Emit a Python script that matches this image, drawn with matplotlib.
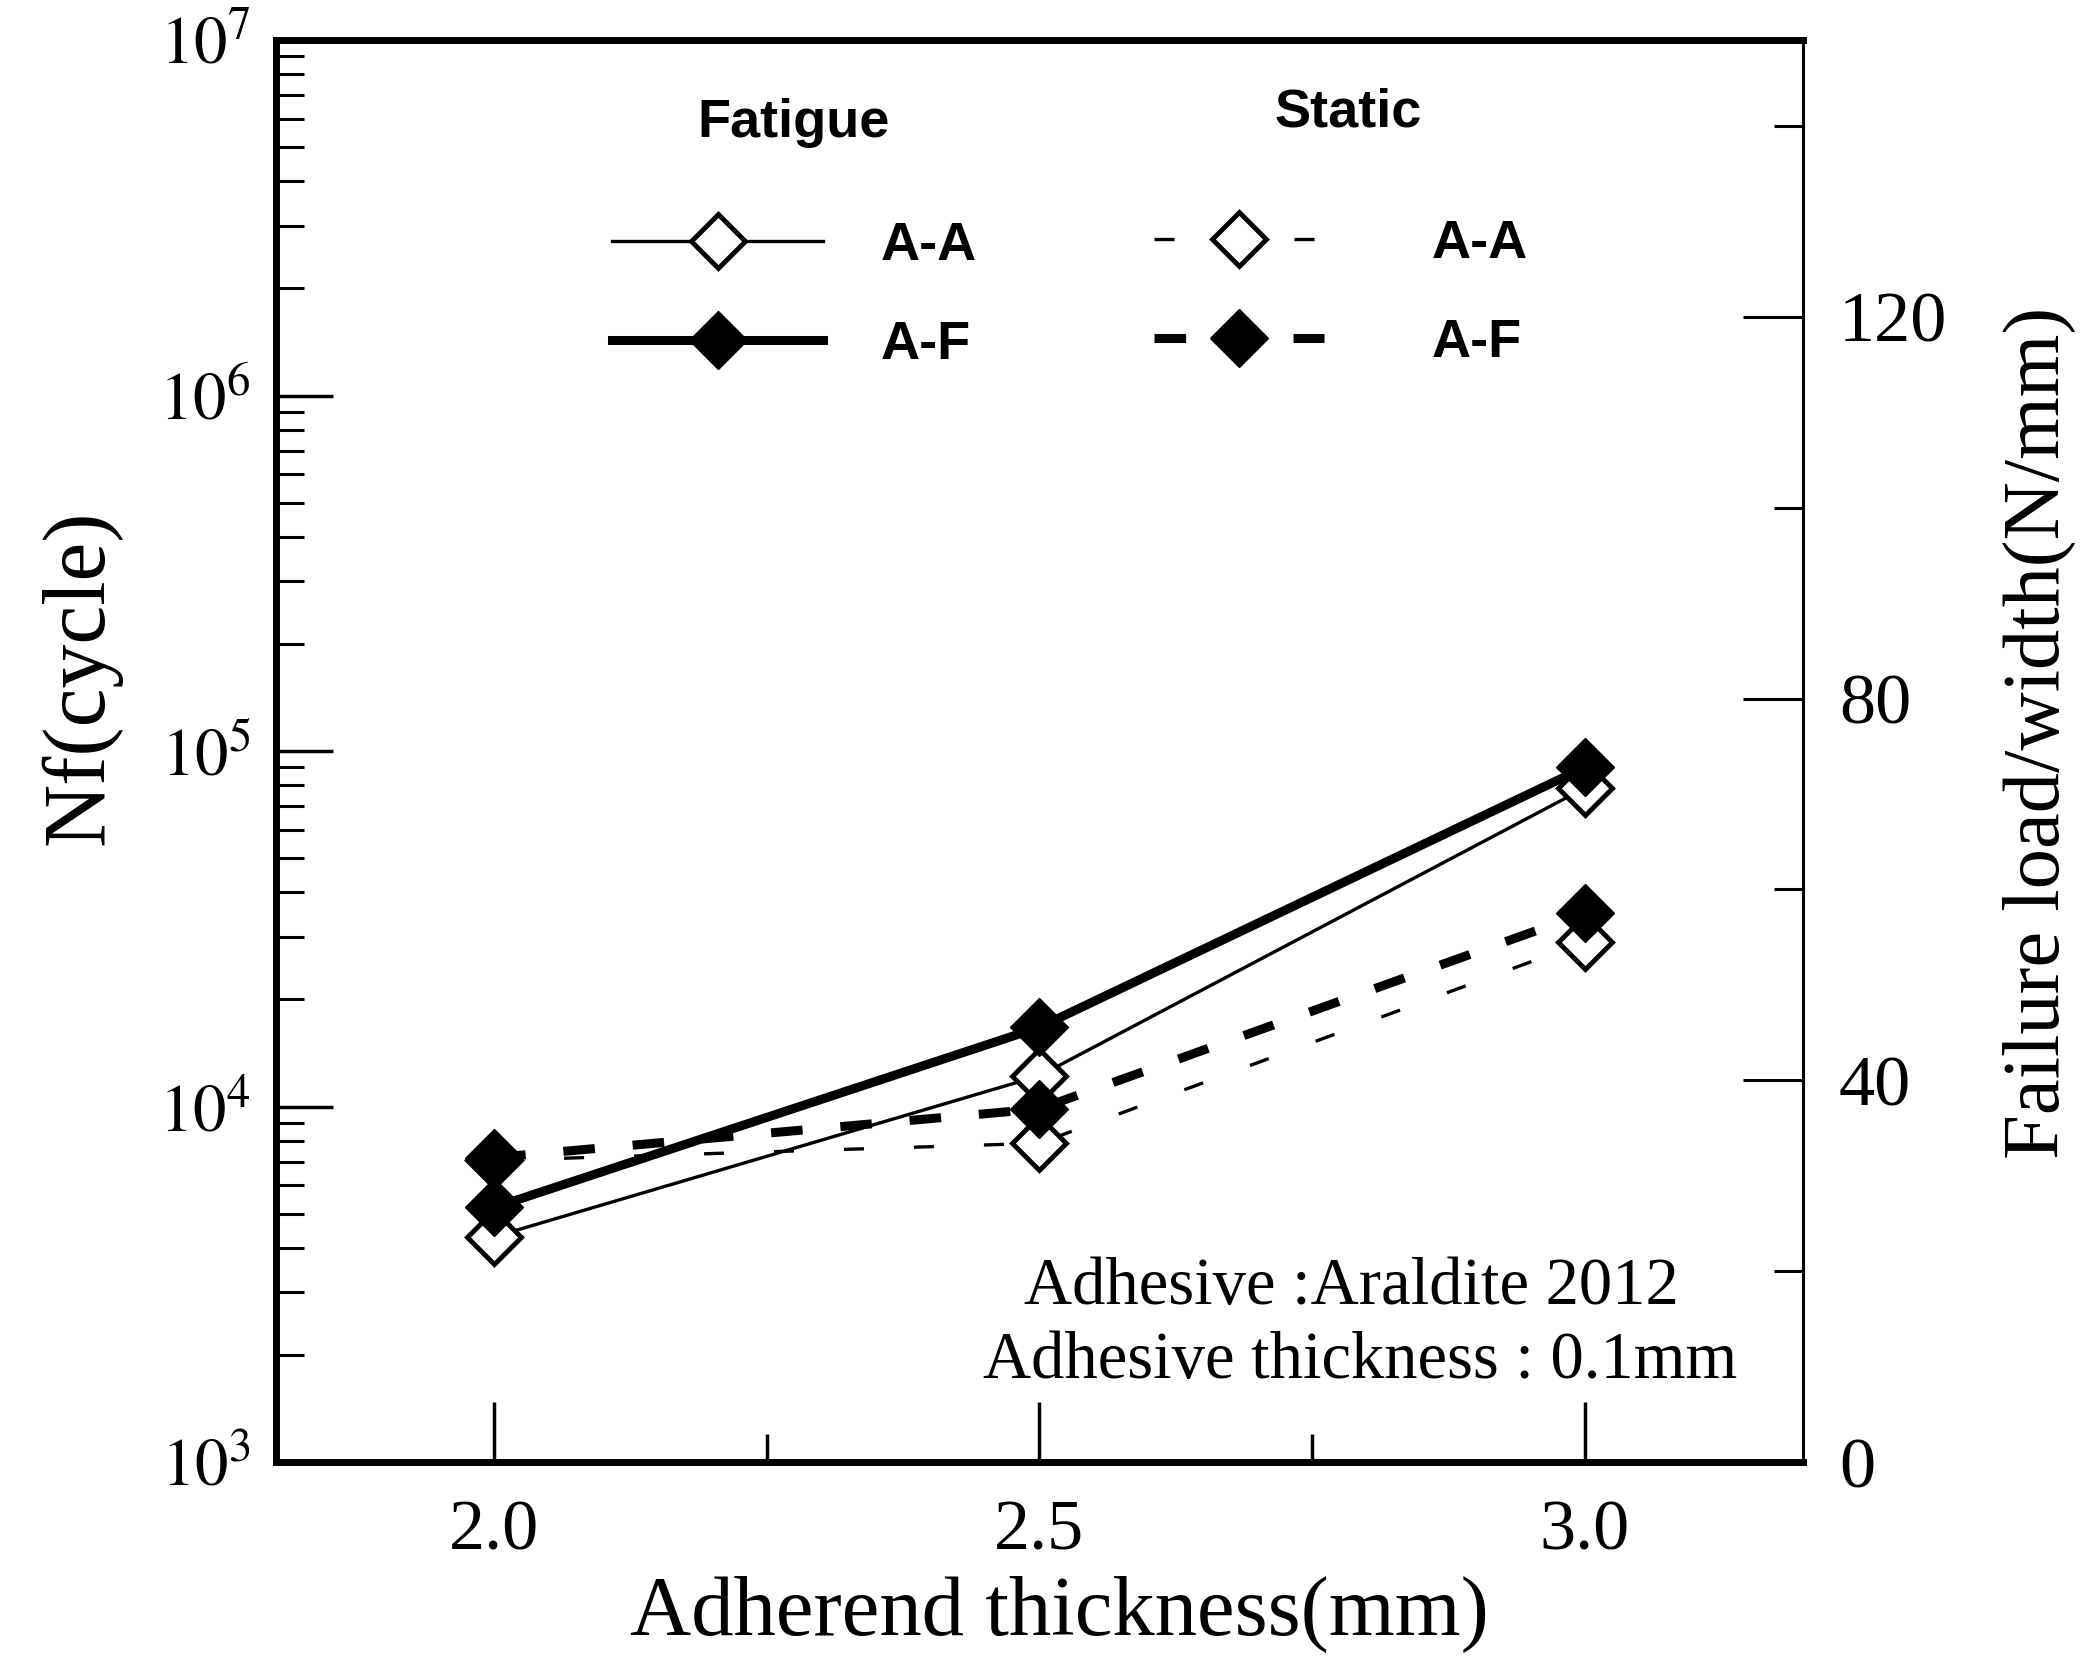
import matplotlib
matplotlib.use('Agg')
import matplotlib.pyplot as plt
from matplotlib.ticker import FixedLocator, FuncFormatter, LogLocator, NullFormatter
import numpy as np

# ---- data ----
thickness = [2.0, 2.5, 3.0]
fatigue_AA = [4300, 12200, 78700]      # Nf (cycles), left log axis
fatigue_AF = [5200, 16700, 90000]
static_AA = [31.6, 33.4, 54.5]         # failure load/width (N/mm), right axis
static_AF = [31.9, 37.0, 57.5]
x_ticks = [2.0, 2.5, 3.0]
x_tick_labels = ['2.0', '2.5', '3.0']
x_minor = [2.25, 2.75]
right_ticks = [0, 40, 80, 120]
right_tick_labels = ['0', '40', '80', '120']
right_minor = [20, 60, 100, 140]
series_labels = ['A-A', 'A-F']

plt.rcParams['mathtext.fontset'] = 'stix'
plt.rcParams['font.family'] = ['Liberation Serif', 'DejaVu Serif']

W, H = 2090, 1668
fig = plt.figure(figsize=(W / 100, H / 100), dpi=100)
L, R, T, B = 276, 1803, 40, 1462
ax = fig.add_axes([L / W, 1 - B / H, (R - L) / W, (B - T) / H])
ax2 = ax.twinx()

# fatigue (left axis)
l_fAA, = ax.plot(thickness, fatigue_AA, '-', color='black', lw=2.4, marker='D', ms=27,
                 mfc='white', mec='black', mew=3.5, zorder=3)
l_fAF, = ax.plot(thickness, fatigue_AF, '-', color='black', lw=6.5, marker='D', ms=29.5,
                 mfc='black', mec='black', mew=1, zorder=4)
# static (right axis)
l_sAA, = ax2.plot(thickness, static_AA, color='black', lw=2.4, dashes=(6, 15), marker='D', ms=27,
                  mfc='white', mec='black', mew=3.5, zorder=3)
l_sAF, = ax2.plot(thickness, static_AF, color='black', lw=6.5, dashes=(3.5, 4.2), marker='D', ms=29.5,
                  mfc='black', mec='black', mew=1, zorder=4)

ax.set_xlim(1.8, 3.2)
ax.set_yscale('log')
ax.set_ylim(1e3, 1e7)
ax2.set_ylim(0, 149)

ax.set_xticks(x_ticks)
ax.set_xticklabels(x_tick_labels)
ax.xaxis.set_minor_locator(FixedLocator(x_minor))
ax.tick_params(axis='x', which='major', direction='in', length=43, width=2.5, labelsize=52, pad=27)
ax.tick_params(axis='x', which='minor', direction='in', length=20, width=2.5)

ax.yaxis.set_major_locator(LogLocator(base=10, numticks=10))
ax.yaxis.set_major_formatter(FuncFormatter(lambda v, p: r'$10^{%d}$' % round(np.log10(v))))
ax.yaxis.set_minor_locator(LogLocator(base=10, subs=np.arange(2, 10), numticks=50))
ax.yaxis.set_minor_formatter(NullFormatter())
ax.tick_params(axis='y', which='major', direction='in', length=41, width=2.5, labelsize=48, pad=18)
ax.tick_params(axis='y', which='minor', direction='in', length=20, width=2.2)

ax2.set_yticks(right_ticks)
ax2.set_yticklabels(right_tick_labels)
ax2.yaxis.set_minor_locator(FixedLocator(right_minor))
ax2.tick_params(axis='y', which='major', direction='in', length=43, width=2.2, labelsize=52, pad=26)
ax2.tick_params(axis='y', which='minor', direction='in', length=21, width=2.2)

for s in ['left', 'top', 'bottom']:
    ax.spines[s].set_linewidth(5)
    ax2.spines[s].set_visible(False)
ax.spines['right'].set_visible(False)
ax2.spines['right'].set_linewidth(2.2)

ax.set_xlabel('Adherend thickness(mm)', fontsize=61, va='center')
ax.xaxis.set_label_coords(0.513, -0.107)
ax.set_ylabel('Nf(cycle)', fontsize=63, va='center')
ax.yaxis.set_label_coords(-0.128, 0.552)
ax2.set_ylabel('Failure load/width(N/mm)', fontsize=58, va='center', rotation=90)
ax2.yaxis.set_label_coords(1.155, 0.513)

leg_font = dict(family='Liberation Sans', weight='bold', size=39)
leg1 = ax2.legend([l_fAA, l_fAF], series_labels, loc='center left', bbox_to_anchor=(0.220, 0.8203),
                  frameon=False, prop=leg_font, handlelength=3.9, handletextpad=1.07,
                  labelspacing=0.9, borderpad=0, borderaxespad=0, numpoints=1)
ax2.add_artist(leg1)
leg2 = ax2.legend([l_sAA, l_sAF], series_labels, loc='center left', bbox_to_anchor=(0.575, 0.8219),
                  frameon=False, prop=leg_font, handlelength=3.13, handletextpad=2.0,
                  labelspacing=0.9, borderpad=0, borderaxespad=0, numpoints=1)

ax2.text(0.3392, 0.9416, 'Fatigue', transform=ax2.transAxes, ha='center', va='center',
         family='Liberation Sans', weight='bold', fontsize=39)
ax2.text(0.702, 0.949, 'Static', transform=ax2.transAxes, ha='center', va='center',
         family='Liberation Sans', weight='bold', fontsize=39)

ax2.text(0.704, 0.1225, 'Adhesive :Araldite 2012', transform=ax2.transAxes, ha='center',
         va='center', fontsize=48)
ax2.text(0.710, 0.0710, 'Adhesive thickness : 0.1mm', transform=ax2.transAxes, ha='center',
         va='center', fontsize=48)

fig.savefig('out.png', dpi=100)
